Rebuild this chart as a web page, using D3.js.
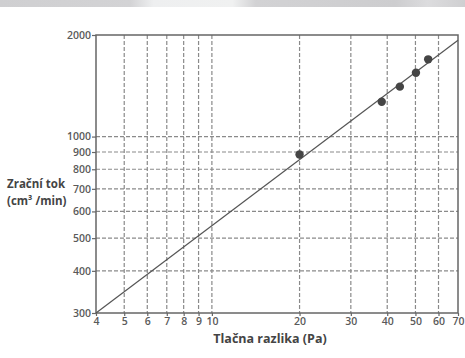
<!DOCTYPE html>
<html>
<head>
<meta charset="utf-8">
<script src="https://cdn.jsdelivr.net/npm/d3@7"></script>
<style>
  body { margin: 0; background: #fff; }
  svg { display: block; }
</style>
</head>
<body>
<div id="chart"></div>
<script>
// measured points (pressure difference Pa, air flow cm3/min)
const pressure = [20, 38.3, 44.2, 50.2, 55.3];
const airflow = [885, 1268, 1406, 1546, 1694];
// fitted line end points
const lineX = [4, 70];
const lineY = [300, 1930];

const xTicks = [4, 5, 6, 7, 8, 9, 10, 20, 30, 40, 50, 60, 70];
const yTicks = [300, 400, 500, 600, 700, 800, 900, 1000, 2000];
const xGrid = [5, 6, 7, 8, 9, 10, 20, 30, 40, 50, 60];
const yGrid = [400, 500, 600, 700, 800, 900, 1000];

const W = 465, H = 358;
const margin = {top: 35, right: 7, bottom: 45, left: 96};

const svg = d3.select('#chart').append('svg')
  .attr('width', W)
  .attr('height', H);

// grey photo strip at the top
const grad = svg.append('defs').append('linearGradient')
  .attr('id', 'strip')
  .attr('x1', 0).attr('x2', 1).attr('y1', 0).attr('y2', 0);
[[0, '#cfcfd1'], [0.28, '#d3d3d5'], [0.33, '#eeeff0'], [0.5, '#f0f1f1'], [0.55, '#d2d2d4'], [0.85, '#cdcdcf'], [0.92, '#dcdcde'], [1, '#cfcfd1']]
  .forEach(s => grad.append('stop').attr('offset', s[0]).attr('stop-color', s[1]));
svg.append('rect').attr('x', 0).attr('y', 0).attr('width', W).attr('height', 7).attr('fill', 'url(#strip)');

const x = d3.scaleLog()
  .domain([4, 70])
  .range([margin.left, W - margin.right]);

const y = d3.scaleLog()
  .domain([300, 2000])
  .range([H - margin.bottom, margin.top]);

const gridColor = '#8a8a8a';
const axisColor = '#666';

// dashed grid
svg.append('g')
  .selectAll('line')
  .data(xGrid)
  .enter()
  .append('line')
  .attr('x1', d => x(d)).attr('x2', d => x(d))
  .attr('y1', y(2000)).attr('y2', y(300))
  .style('stroke', gridColor)
  .style('stroke-width', 1.2)
  .style('stroke-dasharray', '4,2');

svg.append('g')
  .selectAll('line')
  .data(yGrid)
  .enter()
  .append('line')
  .attr('x1', x(4)).attr('x2', x(70))
  .attr('y1', d => y(d)).attr('y2', d => y(d))
  .style('stroke', gridColor)
  .style('stroke-width', 1.2)
  .style('stroke-dasharray', '4,2');

// frame
svg.append('rect')
  .attr('x', x(4)).attr('y', y(2000))
  .attr('width', x(70) - x(4))
  .attr('height', y(300) - y(2000))
  .style('fill', 'none')
  .style('stroke', axisColor)
  .style('stroke-width', 1.5);

// fitted line
svg.append('path')
  .datum(lineX.map((d, i) => ({x: d, y: lineY[i]})))
  .attr('d', d3.line().x(d => x(d.x)).y(d => y(d.y)))
  .style('fill', 'none')
  .style('stroke', '#555')
  .style('stroke-width', 1.2);

// data points
svg.append('g')
  .selectAll('circle')
  .data(pressure)
  .enter()
  .append('circle')
  .attr('cx', d => x(d))
  .attr('cy', (d, i) => y(airflow[i]))
  .attr('r', 4.2)
  .style('fill', '#454545');

// axes
const xAxis = svg.append('g')
  .attr('transform', 'translate(0,' + y(300) + ')')
  .call(d3.axisBottom(x).tickValues(xTicks).tickFormat(d3.format('d')).tickSize(3).tickPadding(2));

const yAxis = svg.append('g')
  .attr('transform', 'translate(' + x(4) + ',0)')
  .call(d3.axisLeft(y).tickValues(yTicks).tickFormat(d3.format('d')).tickSize(4).tickPadding(1));

[xAxis, yAxis].forEach(a => {
  a.select('.domain').remove();
  a.selectAll('line').style('stroke', axisColor).style('stroke-width', 1.2);
  a.selectAll('text')
    .style('font-family', '"Open Sans", sans-serif')
    .style('font-size', '10.5px')
    .style('font-weight', '600')
    .style('fill', '#5a5a5a');
});

// axis titles
svg.append('text')
  .attr('x', 270)
  .attr('y', 343)
  .attr('text-anchor', 'middle')
  .style('font-family', '"Open Sans", sans-serif')
  .style('font-weight', 'bold')
  .style('font-size', '12.5px')
  .style('fill', '#444')
  .text('Tlačna razlika (Pa)');

const yTitle = svg.append('text')
  .attr('text-anchor', 'start')
  .style('font-family', '"Open Sans", sans-serif')
  .style('font-weight', 'bold')
  .style('font-size', '11.5px')
  .style('fill', '#444');
yTitle.append('tspan').attr('x', 7).attr('y', 188).text('Zrační tok');
yTitle.append('tspan').attr('x', 7).attr('y', 205).text('(cm³ /min)');
</script>
</body>
</html>
